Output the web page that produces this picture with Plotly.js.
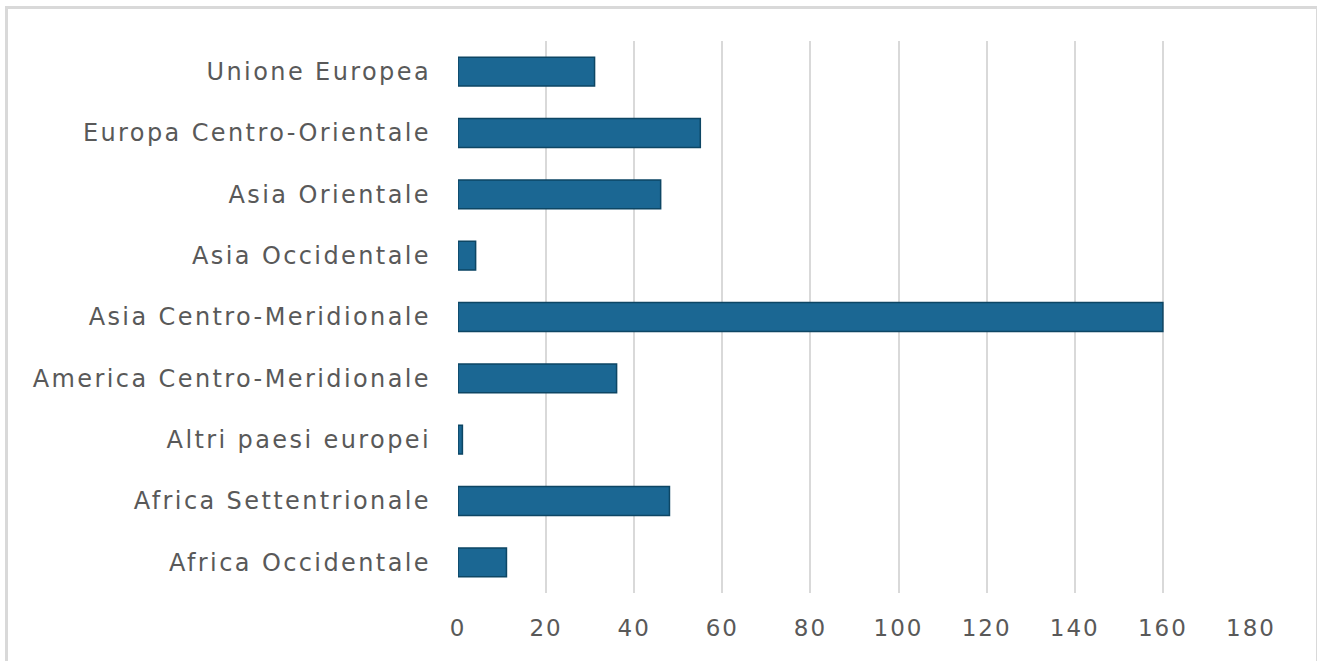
<!DOCTYPE html>
<html>
<head>
<meta charset="utf-8">
<script src="https://cdn.plot.ly/plotly-3.0.1.min.js"></script>
<style>
  html, body { margin: 0; padding: 0; background: #ffffff; overflow: hidden; }
  #chart { width: 1317px; height: 661px; position: absolute; left: 0; top: 0; }
  #frame { position: absolute; left: 5px; top: 6px; width: 1308px; height: 700px;
           border: 3px solid #d9d9d9; pointer-events: none; }
  #chart .ytick text { letter-spacing: 2.4px; }
  #chart .xtick text { letter-spacing: 2px; }
</style>
</head>
<body>
<div id="chart"></div>
<div id="frame"></div>
<script>
const categories = [
  "Africa Occidentale",
  "Africa Settentrionale",
  "Altri paesi europei",
  "America Centro-Meridionale",
  "Asia Centro-Meridionale",
  "Asia Occidentale",
  "Asia Orientale",
  "Europa Centro-Orientale",
  "Unione Europea"
];
const values = [11, 48, 1, 36, 160, 4, 46, 55, 31];
const xTicks = [0, 20, 40, 60, 80, 100, 120, 140, 160, 180];

const trace = {
  type: "bar",
  orientation: "h",
  y: categories,
  x: values,
  marker: {
    color: "#1b6793",
    line: { color: "#0d4664", width: 1.5 }
  },
  hoverinfo: "x+y"
};

const layout = {
  width: 1317,
  height: 661,
  margin: { l: 458, r: 66, t: 41, b: 68 },
  paper_bgcolor: "#ffffff",
  plot_bgcolor: "#ffffff",
  showlegend: false,
  bargap: 0.53,
  font: { family: "DejaVu Sans, sans-serif", color: "#595959", size: 23 },
  xaxis: {
    range: [0, 180],
    tickvals: xTicks,
    ticktext: xTicks.map(String),
    showgrid: true,
    gridcolor: "#d9d9d9",
    gridwidth: 2,
    zeroline: false,
    showline: false,
    ticks: "",
    ticklabelstandoff: 19,
    tickfont: { size: 23, color: "#595959" },
    fixedrange: true
  },
  yaxis: {
    type: "category",
    categoryorder: "array",
    categoryarray: categories,
    showgrid: false,
    zeroline: false,
    showline: false,
    ticks: "",
    ticklabelstandoff: 26,
    tickfont: { size: 24, color: "#595959" },
    fixedrange: true
  }
};

Plotly.newPlot("chart", [trace], layout, { displayModeBar: false, staticPlot: true });
</script>
</body>
</html>
